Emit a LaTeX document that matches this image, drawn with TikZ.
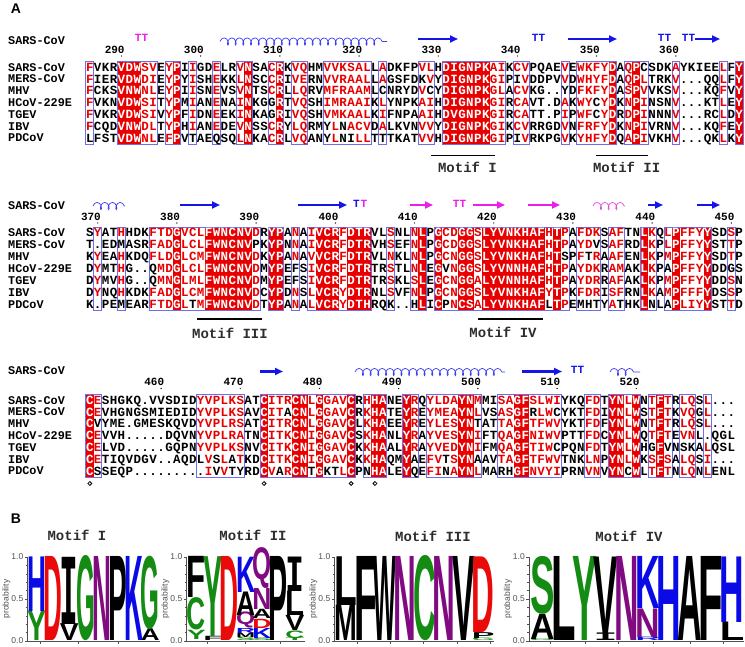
\documentclass[tikz,border=0pt]{standalone}
\usepackage{fontspec}
\usepackage{graphicx}
\usetikzlibrary{decorations.pathmorphing,arrows.meta}
\newfontfamily\monofam{Liberation Mono}
\newfontfamily\sansfam{Liberation Sans}
\newfontfamily\dejamono{DejaVu Sans Mono}
\definecolor{espred}{RGB}{232,0,0}
\definecolor{framebl}{RGB}{110,110,235}
\definecolor{sblue}{RGB}{20,20,235}
\definecolor{smag}{RGB}{235,30,235}
\definecolor{coilbl}{RGB}{60,60,240}
\definecolor{coilmag}{RGB}{220,80,220}
\definecolor{lgreen}{RGB}{20,140,20}
\definecolor{lpurple}{RGB}{128,10,128}
\definecolor{lblue}{RGB}{10,10,230}
\definecolor{lred}{RGB}{235,10,10}
\definecolor{dgray}{RGB}{45,45,45}
\definecolor{agray}{RGB}{80,80,80}
\tikzset{
 seqres/.style={inner sep=0pt, text height=7.1pt, text depth=0pt, font=\monofam\bfseries\fontsize{12.5}{12.5}\selectfont},
 namelab/.style={inner sep=0pt, anchor=west, text height=6.7pt, text depth=0pt, font=\monofam\bfseries\fontsize{11.8}{11.8}\selectfont},
 numlab/.style={inner sep=0pt, anchor=east, text height=6.3pt, text depth=0pt, font=\monofam\bfseries\fontsize{11}{11}\selectfont},
 ttlab/.style={inner sep=0pt, text height=6.3pt, text depth=0pt, font=\monofam\bfseries\fontsize{11}{11}\selectfont},
 framebox/.style={draw=framebl, line width=0.8pt},
 ssarrow/.style={line width=2.6pt, -{Triangle[length=8pt,width=7pt]}},
 coilst/.style={line width=0.7pt, decorate, decoration={coil, aspect=0.6, segment length=7.7pt, amplitude=3.6pt}},
 motifline/.style={line width=1.3pt, black},
 motiflab/.style={inner sep=0pt, text=dgray, font=\monofam\bfseries\fontsize{14}{14}\selectfont},
 panellab/.style={inner sep=0pt, font=\sansfam\bfseries\fontsize{14}{14}\selectfont},
 axisst/.style={draw=agray, line width=0.8pt},
 ticklab/.style={inner sep=0pt, anchor=east, text=agray, font=\sansfam\fontsize{8.5}{8.5}\selectfont},
 problab/.style={inner sep=0pt, rotate=90, text=agray, font=\sansfam\fontsize{8.5}{8.5}\selectfont},
}
\ExplSyntaxOn
\int_new:N \l_sq_col_int
\int_new:N \l_sq_start_int
\tl_new:N \l_sq_cls_tl
\tl_new:N \l_sq_x_tl
\tl_new:N \l_sq_xa_tl
\tl_new:N \l_sq_xb_tl
\tl_new:N \l_sq_name_tl
\cs_new_protected:Npn \sq_frame:nnnnnn #1#2#3#4#5#6
 {
  \tl_set:Nx \l_sq_xa_tl { \fp_eval:n { #1 + #2 * ( #3 - 1 ) - #2 / 2 } }
  \tl_set:Nx \l_sq_xb_tl { \fp_eval:n { #1 + #2 * ( #4 - 1 ) + #2 / 2 } }
  \draw[framebox](\l_sq_xa_tl,#5)rectangle(\l_sq_xb_tl,#6);
 }
\NewDocumentCommand \SeqBoxes { m m m m m }
 {
  \int_zero:N \l_sq_col_int
  \int_zero:N \l_sq_start_int
  \tl_map_inline:Nn #5
   {
    \int_incr:N \l_sq_col_int
    \str_if_eq:nnTF {##1} {.}
     {
      \int_compare:nNnT \l_sq_start_int > 0
       {
        \sq_frame:nnnnnn {#1} {#2} { \int_use:N \l_sq_start_int } { \int_eval:n { \l_sq_col_int - 1 } } {#3} {#4}
        \int_zero:N \l_sq_start_int
       }
     }
     {
      \int_compare:nNnT \l_sq_start_int = 0
       { \int_set_eq:NN \l_sq_start_int \l_sq_col_int }
      \str_if_eq:nnT {##1} {f}
       {
        \tl_set:Nx \l_sq_xa_tl { \fp_eval:n { #1 + #2 * ( \int_use:N \l_sq_col_int - 1 ) - #2 / 2 } }
        \tl_set:Nx \l_sq_xb_tl { \fp_eval:n { #1 + #2 * ( \int_use:N \l_sq_col_int - 1 ) + #2 / 2 } }
        \fill[espred](\l_sq_xa_tl,#3)rectangle(\l_sq_xb_tl,#4);
       }
     }
   }
  \int_compare:nNnT \l_sq_start_int > 0
   { \sq_frame:nnnnnn {#1} {#2} { \int_use:N \l_sq_start_int } { \int_use:N \l_sq_col_int } {#3} {#4} }
 }
\NewDocumentCommand \SeqRow { m m m m m m }
 {
  \int_zero:N \l_sq_col_int
  \tl_map_inline:nn {#6}
   {
    \int_incr:N \l_sq_col_int
    \tl_set:Nx \l_sq_cls_tl { \tl_item:Nn #5 { \l_sq_col_int } }
    \tl_set:Nx \l_sq_x_tl { \fp_eval:n { #2 + #3 * ( \int_use:N \l_sq_col_int - 1 ) } }
    \tl_set:Nx \l_sq_name_tl { #1c \int_use:N \l_sq_col_int }
    \colorlet{sqc}{black}
    \str_if_eq:nnF {##1} {.}
     {
      \str_if_eq:eeT { \l_sq_cls_tl } { f } { \colorlet{sqc}{white} }
      \str_if_eq:eeT { \l_sq_cls_tl } { b }
       {
        \tl_if_in:nnF { abcdefghijklmnopqrstuvwxyz } {##1} { \colorlet{sqc}{espred} }
       }
     }
    \node[seqres,text=sqc](\l_sq_name_tl)at(\l_sq_x_tl,#4){\uppercase{##1}};
   }
 }
\ExplSyntaxOff
\def\clsA{b...fffbb.bf.b..b..bf..bf.bb..bbbbbb.b....bb.ffffffbb.bb....b.bbbbf.bfb...b.....b.f}
\def\clsB{.b..b...bbbfbbbffffffb.ff.b.bfffbfff..b..bf.fbbffbffffffffbfb.bbb.bb..fb.bfbbbf..b.}
\def\clsC{fb............bbbbbb..fbbbffbfbbbf.bff..fb.bbbbffb..bbffbbbb...bb.ffbf.bfb.bb.b...}
\newcommand\Numbers[4]{\foreach \c/\n in {#4} {\node[numlab] (num#1-\n) at ({89.8+7.92*\c+3.3},#2) {\n}; \fill ({89.8+7.92*\c},#3) circle (0.7);}}
\newcommand\Names[3]{\foreach \nm [count=\k] in {SARS-CoV,MERS-CoV,MHV,HCoV-229E,TGEV,IBV,PDCoV} {\node[namelab] (nm#1-\k) at (8,{#2+(\k-1)*#3}) {\nm};}}
\newcounter{lgc}
\newcommand\LL[7]{%
 \stepcounter{lgc}%
 \pgfmathsetmacro\llx{#1+#2*#3}%
 \pgfmathsetmacro\llw{1.16*#2}%
 \pgfmathsetmacro\lly{641-#4*84}%
 \pgfmathsetmacro\llh{(#5-#4)*84}%
 \node[inner sep=0pt, anchor=south west, text=#7] (lg\arabic{lgc}) at (\llx,\lly) {\makebox[#2pt][c]{\resizebox{\llw pt}{\llh pt}{\sansfam\bfseries #6}}};%
}
\newcommand\LogoAxis[4]{%
 \draw[axisst] (#2,557) -- (#2,641) -- (#3,641);
 \foreach \yy in {557,599,641} \draw[axisst] (#2,\yy) -- ({#2-3},\yy);
 \foreach \kk in {1,2,3,4,6,7,8,9} \draw[axisst, line width=0.5pt] (#2,{557+8.4*\kk}) -- ({#2-1.8},{557+8.4*\kk});
 \node[ticklab] (#1t1) at ({#2-4},557) {1.0};
 \node[ticklab] (#1t2) at ({#2-4},599) {0.5};
 \node[ticklab] (#1t3) at ({#2-4},641) {0.0};
 \node[problab] (#1p) at ({#2-21},599) {probability};
 \foreach \xx in {#4} \draw[axisst] (\xx,641) -- (\xx,644);
}
\begin{document}
\begin{tikzpicture}[x=1pt,y=-1pt]
\useasboundingbox (0,0) rectangle (745,647);
\fill[white] (0,0) rectangle (745,647);
\node[panellab] (labA) at (16,9) {A};
% ---------------- block 1
\node[namelab] (h1) at (8,40.7) {SARS-CoV};
\node[ttlab,text=smag] (tt1) at (141.5,38.5) {TT};
\draw[coilst,coilbl] (220,41.5) -- (387,41.5);
\draw[ssarrow,sblue] (418,39) -- (458,39);
\node[ttlab,text=sblue] (tt2) at (538.5,38.5) {TT};
\draw[ssarrow,sblue] (568,39) -- (617,39);
\node[ttlab,text=sblue] (tt3) at (664.5,38.5) {TT};
\node[ttlab,text=sblue] (tt4) at (688.5,38.5) {TT};
\draw[ssarrow,sblue] (695,39) -- (720,39);
\Numbers{1}{50}{56}{4/290,14/300,24/310,34/320,44/330,54/340,64/350,74/360}
\SeqBoxes{89.8}{7.92}{61.8}{144.4}{\clsA}
\Names{1}{67.7}{11.8}
\SeqRow{b1r1}{89.8}{7.92}{67.7}{\clsA}{FVKRVDWSVEYPIIGDELRVNSACRKVQHMVVKSALLADKFPVLHDIGNPKAIKCVPQAEVEWKFYDAQPcSDKAYKIEELFY}
\SeqRow{b1r2}{89.8}{7.92}{79.5}{\clsA}{FIERVDWDIEYPYISHEKKLNSCCRIVERNVVRAALLAGSFDkVYDIGNPKGIPiVDDPVVDWHYFDAQPLTRKV...QQLFY}
\SeqRow{b1r3}{89.8}{7.92}{91.3}{\clsA}{FCKSVNWNLEYPIISNEVSVNTSCRLLQRVMFRAAMLcNRYDVcYDIGNPKGLACVKG..yDFKFYDASPVVKSV...KQFVY}
\SeqRow{b1r4}{89.8}{7.92}{103.1}{\clsA}{FVKNVDWSITYPMIANENAINKGgRTVQSHIMRAAIKLYNPKAIHDIGNPKGIRCAVT.DAKWYcYDKNPINSNV...KTLEY}
\SeqRow{b1r5}{89.8}{7.92}{114.9}{\clsA}{FVKRVDWSIVYPFIDNEEKINKAgRIVQSHVMKAALKIFNPAAIHDVGNPKGIRCATT.PIPWFcYDRDPINNNV...RCLDY}
\SeqRow{b1r6}{89.8}{7.92}{126.7}{\clsA}{FCQDVNWDLTYPHIANEDEVNSSCRYLQRMyLnACVDALKVNVVYDIGNPKGIKCVRRGDVNFRFYDKNPIVRNV...KQFEY}
\SeqRow{b1r7}{89.8}{7.92}{138.5}{\clsA}{lFSTVDWNLEFPVtAEqSQLNKACRLVQANyLniLLTtTKATVVHDIGNPKGIPiVRKPGVKYHFYDQAPIVKHV...QKLKY}
\draw[motifline] (431,155.7) -- (495,155.7);
\node[motiflab] (mot1) at (467.5,167) {Motif I};
\draw[motifline] (596,155.7) -- (648,155.7);
\node[motiflab] (mot2) at (626.7,167.5) {Motif II};
% ---------------- block 2
\node[namelab] (h2) at (8,206) {SARS-CoV};
\draw[coilst,coilbl] (93,206) -- (125,206);
\draw[ssarrow,sblue] (180,205) -- (220,205);
\draw[ssarrow,sblue] (298,205) -- (347,205);
\node[ttlab,text=sblue] (tt5) at (356.5,204.5) {T};
\node[ttlab,text=smag] (tt6) at (364,204.5) {T};
\draw[ssarrow,smag] (410,205) -- (433,205);
\node[ttlab,text=smag] (tt7) at (459.5,204.5) {TT};
\draw[ssarrow,smag] (473,205) -- (505,205);
\draw[ssarrow,smag] (528,205) -- (560,205);
\draw[coilst,coilmag] (593,206) -- (625,206);
\draw[ssarrow,sblue] (648,205) -- (663,205);
\draw[ssarrow,sblue] (697,205) -- (720,205);
\Numbers{2}{217.3}{223}{1/370,11/380,21/390,31/400,41/410,51/420,61/430,71/440,81/450}
\SeqBoxes{89.8}{7.92}{227.4}{310.6}{\clsB}
\Names{2}{233.3}{11.9}
\SeqRow{b2r1}{89.8}{7.92}{233.3}{\clsB}{SYATHHDKFTDGVCLFWNCNVDRYPANAIVCRFDTRVLSNLNLPGCDGGSLYVNKHAFHTPAFDKSAFTNLKQLPFFYYSDSP}
\SeqRow{b2r2}{89.8}{7.92}{245.2}{\clsB}{T.EDmASRFADGLCLFWNCNVpKYPNNAIVCRFDTRVHSEFNLPGCDGGSLYVNKHAFHTPAYDvSAFRDLKPLPFFYYSTTP}
\SeqRow{b2r3}{89.8}{7.92}{257.1}{\clsB}{KYEAHKDQFLDGLCMFWNCNVDKYPANAVVCRFDTRVLNKLNLPGCNGGSLYVNKHAFHTsPFtRAAFENLKPMPFFYYSDTP}
\SeqRow{b2r4}{89.8}{7.92}{269.0}{\clsB}{DYMTHG..qMDGLCLFWNCNVDMYPEfSIVCRFDTRTRSTLNLEGvNGGSLYVNNHAFHTPAYDKRAMAKLKPaPFFYYDDgS}
\SeqRow{b2r5}{89.8}{7.92}{280.9}{\clsB}{DYMVHG..qMNGLMLFWNCNVDMYPEfSIVCRFDTRTRSKLSLEGCNGGALYVNNHAFHTPAYDRRAFAKLKPMPFFYYDDSN}
\SeqRow{b2r6}{89.8}{7.92}{292.8}{\clsB}{DYNQHKDKFADGLCMFWNCNVDCYPDNSLVCRYDTRNLSVFNLPGCNGGSLYVNKHAFYTPKFDRISFRNLKAMPFFFYDSSP}
\SeqRow{b2r7}{89.8}{7.92}{304.7}{\clsB}{K.PEmEARFTDGLtMFWNCNVDTYPANALVCRYDTHRQk..hLICpNCSALYVNKHAFlTPEmhtYAtHKLnLaPLIYYSTTD}
\draw[motifline] (197,319) -- (262,319);
\node[motiflab] (mot3) at (230,333) {Motif III};
\draw[motifline] (478,319) -- (543,319);
\node[motiflab] (mot4) at (503,332) {Motif IV};
% ---------------- block 3
\node[namelab] (h3) at (8,371) {SARS-CoV};
\draw[ssarrow,sblue] (260,371.5) -- (283,371.5);
\draw[coilst,coilbl] (355,372) -- (505,372);
\draw[ssarrow,sblue] (522,371.5) -- (562,371.5);
\node[ttlab,text=sblue] (tt8) at (577.5,370.5) {TT};
\draw[coilst,coilbl] (610,372) -- (640,372);
\Numbers{3}{382.7}{388.5}{9/460,19/470,29/480,39/490,49/500,59/510,69/520}
\SeqBoxes{89.8}{7.92}{394.8}{477.4}{\clsC}
\Names{3}{400.7}{11.8}
\SeqRow{b3r1}{89.8}{7.92}{400.7}{\clsC}{CESHGKQ.VVSDIDYVPLKSATCITRCNLGGAVCRHHANEYRQYLDAYNMMISAGFSLWIYKQFDTYNLWNTFTRLQSL...}
\SeqRow{b3r2}{89.8}{7.92}{412.5}{\clsC}{CEVHGNGSMIEDIDYVPLKSAVCITaCNLGGAVCRKHATEYREYMEAYNLVSASGFrLWcYKTFDIYNLWSTFTKVQGL...}
\SeqRow{b3r3}{89.8}{7.92}{424.3}{\clsC}{CvYME.GMESKQVDYVPLRSATCITRCNLGGAVCLKHAEEYREYLESYNtATTAGFTFWVYKTFDFYNLWNTFTRLQSL...}
\SeqRow{b3r4}{89.8}{7.92}{436.1}{\clsC}{CEVVH.....DQVNYVPLRATNCITKCNIGGAVCSKHANLYRAYVESYNIFTQAGFNIWVPTTFDCYNLWQTFTEVNL.QGL}
\SeqRow{b3r5}{89.8}{7.92}{447.9}{\clsC}{CELVD.....GQPNYVPLKSNVCITKCNIGGAVCKKHAALYRAYVEDYNIFMQAGFTIWcPQNFDTYMLWHgFvNskALQSL}
\SeqRow{b3r6}{89.8}{7.92}{459.7}{\clsC}{CETIQVDGV..AQDlVsLaTKDCITKCNIGGAVCKKHAQMYaEFVtSYNaAVTAGFTFWVTNKLNPYNLWKSFSALQSI...}
\SeqRow{b3r7}{89.8}{7.92}{471.5}{\clsC}{CsSEQP.........IvVtyRDCVaRCNtGktLCPnHALEYqEFInAYNLMArhGFNVYIPRNVNVYNcWLTFTNLQNLENL}
\foreach \c in {0,22,33,36} \draw[line width=0.8pt] ({89.8+7.92*\c},483.5) circle (1.9);
% ---------------- panel B
\node[panellab] (labB) at (16,519) {B};
\node[motiflab] (lt1) at (77,535) {Motif I};
\node[motiflab] (lt2) at (253,535) {Motif II};
\node[motiflab] (lt3) at (433,536) {Motif III};
\node[motiflab] (lt4) at (629,536) {Motif IV};
\LogoAxis{ax1}{27.5}{160}{40,78,118}
\LogoAxis{ax2}{186.5}{305}{207,245,280}
\LogoAxis{ax3}{334.5}{494}{357,390,423,457,490}
\LogoAxis{ax4}{529}{744}{550,585,618,653,690,723}
% Motif I
\LL{28.5}{16.2}{0}{0}{0.35}{Y}{lgreen}
\LL{28.5}{16.2}{0}{0.35}{1}{H}{lblue}
\LL{28.5}{16.2}{1}{0}{1}{D}{lred}
\LL{28.5}{16.2}{2}{0}{0.2}{V}{black}
\LL{28.5}{16.2}{2}{0.2}{1}{{\dejamono I}}{black}
\LL{28.5}{16.2}{3}{0}{1}{G}{lgreen}
\LL{28.5}{16.2}{4}{0}{1}{N}{lpurple}
\LL{28.5}{16.2}{5}{0}{1}{P}{black}
\LL{28.5}{16.2}{6}{0}{1}{K}{lblue}
\LL{28.5}{16.2}{7}{0}{0.14}{A}{black}
\LL{28.5}{16.2}{7}{0.14}{1}{G}{lgreen}
% Motif II
\LL{188}{16.4}{0}{0.02}{0.13}{Y}{lgreen}
\LL{188}{16.4}{0}{0.13}{0.51}{C}{lgreen}
\LL{188}{16.4}{0}{0.51}{1}{F}{black}
\LL{188}{16.4}{1}{0}{0.05}{F}{black}
\LL{188}{16.4}{1}{0.05}{1}{Y}{lgreen}
\LL{188}{16.4}{2}{0}{1}{D}{lred}
\LL{188}{16.4}{3}{0}{0.04}{S}{lgreen}
\LL{188}{16.4}{3}{0.04}{0.09}{M}{black}
\LL{188}{16.4}{3}{0.09}{0.15}{R}{lblue}
\LL{188}{16.4}{3}{0.15}{0.30}{Q}{lpurple}
\LL{188}{16.4}{3}{0.30}{0.58}{A}{black}
\LL{188}{16.4}{3}{0.58}{1}{K}{lblue}
\LL{188}{16.4}{4}{0}{0.03}{S}{lgreen}
\LL{188}{16.4}{4}{0.03}{0.15}{K}{lblue}
\LL{188}{16.4}{4}{0.15}{0.26}{D}{lred}
\LL{188}{16.4}{4}{0.26}{0.37}{A}{black}
\LL{188}{16.4}{4}{0.37}{0.62}{N}{lpurple}
\LL{188}{16.4}{4}{0.62}{1}{Q}{lpurple}
\LL{188}{16.4}{5}{0}{1}{P}{black}
\LL{188}{16.4}{6}{0}{0.03}{T}{lgreen}
\LL{188}{16.4}{6}{0.03}{0.12}{C}{lgreen}
\LL{188}{16.4}{6}{0.12}{0.30}{V}{black}
\LL{188}{16.4}{6}{0.30}{0.59}{L}{black}
\LL{188}{16.4}{6}{0.59}{1}{{\dejamono I}}{black}
% Motif III
\LL{336}{19.6}{0}{0}{0.42}{M}{black}
\LL{336}{19.6}{0}{0.42}{1}{L}{black}
\LL{336}{19.6}{1}{0}{1}{F}{black}
\LL{336}{19.6}{2}{0}{1}{W}{black}
\LL{336}{19.6}{3}{0}{1}{N}{lpurple}
\LL{336}{19.6}{4}{0}{1}{C}{lgreen}
\LL{336}{19.6}{5}{0}{1}{N}{lpurple}
\LL{336}{19.6}{6}{0}{1}{V}{black}
\LL{336}{19.6}{7}{0}{0.03}{G}{lgreen}
\LL{336}{19.6}{7}{0.03}{0.1}{P}{black}
\LL{336}{19.6}{7}{0.1}{1}{D}{lred}
% Motif IV
\LL{531.5}{21.1}{0}{0}{0.02}{G}{lgreen}
\LL{531.5}{21.1}{0}{0.02}{0.32}{A}{black}
\LL{531.5}{21.1}{0}{0.32}{1}{S}{lgreen}
\LL{531.5}{21.1}{1}{0}{1}{L}{black}
\LL{531.5}{21.1}{2}{0}{1}{Y}{lgreen}
\LL{531.5}{21.1}{3}{0}{0.09}{{\dejamono I}}{black}
\LL{531.5}{21.1}{3}{0.09}{1}{V}{black}
\LL{531.5}{21.1}{4}{0}{1}{N}{lpurple}
\LL{531.5}{21.1}{5}{0}{0.04}{R}{lblue}
\LL{531.5}{21.1}{5}{0.04}{0.38}{N}{lpurple}
\LL{531.5}{21.1}{5}{0.38}{1}{K}{lblue}
\LL{531.5}{21.1}{6}{0}{1}{H}{lblue}
\LL{531.5}{21.1}{7}{0}{1}{A}{black}
\LL{531.5}{21.1}{8}{0}{1}{F}{black}
\LL{531.5}{21.1}{9}{0}{0.22}{L}{black}
\LL{531.5}{21.1}{9}{0.22}{1}{H}{lblue}
\end{tikzpicture}
\end{document}
